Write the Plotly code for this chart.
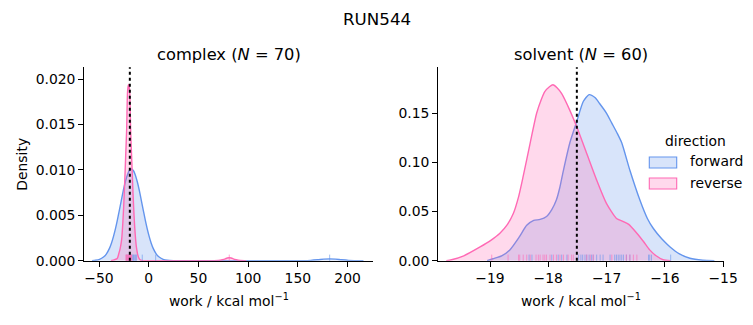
import plotly.graph_objects as go

# ---------------- data ----------------
complex_fwd_x = [-57, -53.5, -49.5, -45.5, -42.5, -39.5, -37.5, -35.5, -33.5, -31.5, -29.5, -27.5,
                 -25.5, -23.5, -21.5, -19.5, -17.5, -15.5, -13.5, -11.5, -9.5, -7.5, -5.5, -3.5,
                 -1.5, 0.5, 2.5, 4.5, 7.5, 10.5, 14.5, 18.5, 25, 40, 80, 120, 155, 163, 170,
                 176, 182, 188, 194, 201, 210, 216]
complex_fwd_y = [0, 0.00005, 0.00015, 0.0004, 0.00076, 0.00136, 0.00193, 0.00265, 0.0035, 0.0045,
                 0.00557, 0.00668, 0.00776, 0.0087, 0.00945, 0.00993, 0.0101, 0.00993, 0.00945,
                 0.0087, 0.00776, 0.00668, 0.00557, 0.0045, 0.0035, 0.00265, 0.00193, 0.00136,
                 0.00076, 0.0004, 0.00015, 0.00005, 0.00001, 0, 0, 0, 0.00001, 0.00004, 0.0001,
                 0.00017, 0.0002, 0.00017, 0.0001, 0.00004, 0.00001, 0]

complex_rev_x = [-38, -31.7, -30.2, -28.7, -27.2, -26.2, -25.2, -24.2, -23.2, -22.2, -21.2, -20.2,
                 -19.2, -18.2, -17.2, -16.2, -15.2, -14.2, -13.2, -12.2, -11.2, -10.2, -8.7,
                 -7.2, -5.2, 20, 50, 66, 70, 74, 77, 79, 81, 83, 85, 88, 92, 96, 98]
complex_rev_y = [0, 0.00025, 0.00073, 0.00135, 0.00237, 0.00388, 0.00594, 0.00853, 0.01146,
                 0.01443, 0.01877, 0.0194, 0.01877, 0.01443, 0.01146, 0.00853, 0.00594, 0.00388,
                 0.00237, 0.00135, 0.00073, 0.00035, 0.0001, 0.00002, 0, 0, 0, 0, 0.00002,
                 0.0001, 0.0002, 0.0003, 0.00033, 0.0003, 0.0002, 0.0001, 0.00002, 0, 0]

solvent_fwd_x = [-19.05, -18.95, -18.8, -18.66, -18.5, -18.37, -18.25, -18.14, -18.03, -17.94,
                 -17.86, -17.8, -17.74, -17.63, -17.51, -17.4, -17.3, -17.2, -17.12, -17.0,
                 -16.91, -16.82, -16.74, -16.6, -16.43, -16.3, -16.2, -16.05, -15.91, -15.75,
                 -15.57, -15.35, -15.15]
solvent_fwd_y = [0, 0.002, 0.005, 0.011, 0.024, 0.036, 0.041, 0.042, 0.045, 0.052, 0.062, 0.075,
                 0.092, 0.12, 0.142, 0.162, 0.169, 0.166, 0.16, 0.15, 0.14, 0.13, 0.12, 0.092,
                 0.062, 0.043, 0.033, 0.022, 0.014, 0.007, 0.0025, 0.0005, 0]

solvent_rev_x = [-19.75, -19.66, -19.45, -19.17, -18.98, -18.83, -18.7, -18.6, -18.51, -18.43,
                 -18.31, -18.2, -18.12, -18.06, -17.98, -17.92, -17.85, -17.77, -17.63, -17.51,
                 -17.34, -17.17, -17.0, -16.83, -16.72, -16.62, -16.48, -16.36, -16.26, -16.15,
                 -16.03, -15.9]
solvent_rev_y = [0, 0.001, 0.005, 0.014, 0.021, 0.028, 0.037, 0.048, 0.065, 0.086, 0.12, 0.15,
                 0.164, 0.172, 0.177, 0.179, 0.176, 0.17, 0.153, 0.136, 0.109, 0.082, 0.058,
                 0.043, 0.04, 0.037, 0.028, 0.019, 0.011, 0.005, 0.001, 0]

complex_fwd_rug = [-22, -20, -18, -16.5, -15.5, -15, -14, -13, -12.5, -6.5, 7, 182]
complex_rev_rug = [-23, -22.5, -22, -21.5, -21, -20.5, -20, -19.5, -19, -18.5, -18, -17.5, -17, 81]
solvent_fwd_rug = [-18.33, -18.28, -17.94, -17.83, -17.77, -17.68, -17.48, -17.44, -17.41, -17.37,
                   -17.34, -17.30, -17.26, -17.23, -17.17, -17.11, -17.06, -16.94, -16.86, -16.83,
                   -16.80, -16.77, -16.74, -16.71, -16.66, -16.60, -16.28, -16.26, -16.23, -15.90]
solvent_rev_rug = [-18.97, -18.69, -18.51, -18.49, -18.43, -18.37, -18.31, -18.21, -18.17, -18.14,
                   -18.09, -18.06, -18.03, -17.97, -17.91, -17.86, -17.80, -17.74, -17.66, -17.60,
                   -17.57, -17.34, -17.28, -17.23, -16.91, -16.66, -16.60, -16.54, -16.48]

estimate = {"complex": -19.0, "solvent": -17.51}
titles = ["complex (<i>N</i> = 70)", "solvent (<i>N</i> = 60)"]
suptitle = "RUN544"
xlabel = "work / kcal mol<sup>−1</sup>"
ylabel = "Density"
directions = ["forward", "reverse"]
legend_title = "direction"

# ---------------- styling ----------------
OFF = 8  # default body margin of the html page
W, H = 753 - 2 * OFF, 325 - 2 * OFF
FONT = "DejaVu Sans"
TICK = 13.9
BLUE = "#6495ED"
PINK = "#FF69B4"
BLUE_F = "rgba(100,149,237,0.25)"
PINK_F = "rgba(255,105,180,0.25)"
BLUE_R = "rgba(100,149,237,0.6)"
PINK_R = "rgba(255,105,180,0.6)"


def px_x(p):
    return (p - OFF) / W


def px_y(p):
    return 1 - (p - OFF) / H


xrng = [[-64.8, 225.9], [-19.887, -14.98]]
yrng = [[0, 0.0213], [0, 0.1968]]
xdom = [[px_x(84.3), px_x(373.3)], [px_x(438.3), px_x(724.3)]]
ydom = [px_y(260.7), px_y(67.3)]
axh = 260.7 - 67.3

fig = go.Figure()

panels = [
    (complex_fwd_x, complex_fwd_y, complex_rev_x, complex_rev_y, complex_fwd_rug, complex_rev_rug, "complex"),
    (solvent_fwd_x, solvent_fwd_y, solvent_rev_x, solvent_rev_y, solvent_fwd_rug, solvent_rev_rug, "solvent"),
]

for i, (fx, fy, rx, ry, frug, rrug, key) in enumerate(panels):
    xa = "x" if i == 0 else "x2"
    ya = "y" if i == 0 else "y2"
    fig.add_trace(go.Scatter(x=fx, y=fy, mode="lines", fill="tozeroy", fillcolor=BLUE_F,
                             line=dict(color=BLUE, width=1.4, shape="spline", smoothing=0.6),
                             name=directions[0], showlegend=False, xaxis=xa, yaxis=ya))
    fig.add_trace(go.Scatter(x=rx, y=ry, mode="lines", fill="tozeroy", fillcolor=PINK_F,
                             line=dict(color=PINK, width=1.4, shape="spline", smoothing=0.6),
                             name=directions[1], showlegend=False, xaxis=xa, yaxis=ya))
    ry_pos = yrng[i][1] * 2.6 / axh
    fig.add_trace(go.Scatter(x=frug, y=[ry_pos] * len(frug), mode="markers",
                             marker=dict(symbol="line-ns", size=5, line=dict(color=BLUE_R, width=1)),
                             showlegend=False, hoverinfo="skip", xaxis=xa, yaxis=ya))
    fig.add_trace(go.Scatter(x=rrug, y=[ry_pos] * len(rrug), mode="markers",
                             marker=dict(symbol="line-ns", size=5, line=dict(color=PINK_R, width=1)),
                             showlegend=False, hoverinfo="skip", xaxis=xa, yaxis=ya))
    fig.add_shape(type="line", xref=xa, yref=f"{ya} domain", x0=estimate[key], x1=estimate[key],
                  y0=0, y1=1, line=dict(color="black", width=2, dash="dot"), layer="above")

axis_common = dict(showline=True, linecolor="black", linewidth=1.1, ticks="outside", ticklen=5,
                   tickwidth=1.1, tickcolor="black", showgrid=False, zeroline=False,
                   tickfont=dict(family=FONT, size=TICK, color="black"), automargin=False)

fig.update_layout(
    width=W, height=H, margin=dict(l=0, r=0, t=0, b=0),
    paper_bgcolor="white", plot_bgcolor="white",
    font=dict(family=FONT, color="black"),
    showlegend=False,
    xaxis=dict(domain=xdom[0], range=xrng[0], anchor="y", tickvals=[-50, 0, 50, 100, 150, 200],
               ticktext=["−50", "0", "50", "100", "150", "200"], **axis_common),
    yaxis=dict(domain=ydom, range=yrng[0], anchor="x", tickvals=[0, 0.005, 0.01, 0.015, 0.02],
               ticktext=["0.000", "0.005", "0.010", "0.015", "0.020"], **axis_common),
    xaxis2=dict(domain=xdom[1], range=xrng[1], anchor="y2", tickvals=[-19, -18, -17, -16, -15],
                ticktext=["−19", "−18", "−17", "−16", "−15"], **axis_common),
    yaxis2=dict(domain=ydom, range=yrng[1], anchor="x2", tickvals=[0, 0.05, 0.1, 0.15],
                ticktext=["0.00", "0.05", "0.10", "0.15"], **axis_common),
)

ann = []
ann.append(dict(text=suptitle, x=px_x(376.5), y=1, xref="paper", yref="paper", showarrow=False,
                font=dict(family=FONT, size=16.7), xanchor="center", yanchor="top", borderpad=0))
for i in range(2):
    cx = (xdom[i][0] + xdom[i][1]) / 2
    ann.append(dict(text=titles[i], x=cx, y=px_y(54), xref="paper", yref="paper", showarrow=False,
                    font=dict(family=FONT, size=16.3), xanchor="center", yanchor="middle"))
    ann.append(dict(text=xlabel, x=cx, y=px_y(300), xref="paper", yref="paper", showarrow=False,
                    font=dict(family=FONT, size=TICK), xanchor="center", yanchor="middle"))
ann.append(dict(text=ylabel, x=px_x(21.7), y=px_y(164), xref="paper", yref="paper", showarrow=False,
                textangle=-90, font=dict(family=FONT, size=TICK), xanchor="center", yanchor="middle"))

# legend (drawn as patches + labels, matplotlib style)
ann.append(dict(text=legend_title, x=px_x(695), y=px_y(141), xref="paper", yref="paper",
                showarrow=False, font=dict(family=FONT, size=TICK), xanchor="center", yanchor="middle"))
patches = [(BLUE, BLUE_F, 157, 168, 161), (PINK, PINK_F, 178, 189, 182.5)]
for name, (lc, fc, y0, y1, ty) in zip(directions, patches):
    fig.add_shape(type="rect", xref="paper", yref="paper", x0=px_x(649.3), x1=px_x(676.7),
                  y0=px_y(y1), y1=px_y(y0), line=dict(color=lc, width=1.1), fillcolor=fc)
    ann.append(dict(text=name, x=px_x(688), y=px_y(ty), xref="paper", yref="paper", showarrow=False,
                    font=dict(family=FONT, size=TICK), xanchor="left", yanchor="middle"))
fig.update_layout(annotations=ann)

fig.write_html("out.html")
